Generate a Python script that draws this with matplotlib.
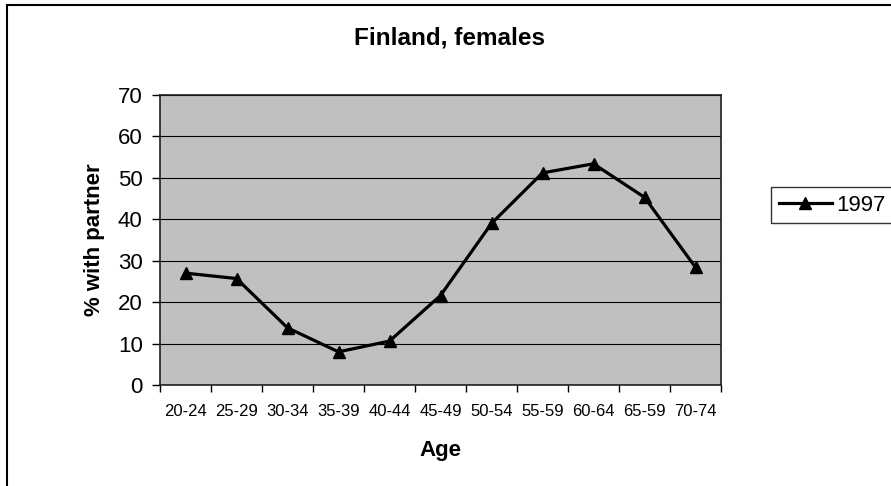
import matplotlib.pyplot as plt
from matplotlib.patches import Rectangle

plt.rcParams["font.family"] = ["Liberation Sans", "DejaVu Sans"]

# ----------------------------
# Data
# ----------------------------
age_groups = ["20-24", "25-29", "30-34", "35-39", "40-44", "45-49",
              "50-54", "55-59", "60-64", "65-59", "70-74"]
with_partner_1997 = [27.0, 25.7, 13.8, 8.0, 10.6, 21.6, 39.0, 51.2, 53.4, 45.3, 28.4]
y_ticks = [0, 10, 20, 30, 40, 50, 60, 70]

W, H = 891, 486
fig = plt.figure(figsize=(W / 100, H / 100), dpi=100)

# plot area in pixel coords: x 160..721, y 95..385
ax = fig.add_axes([160 / W, 1 - 385 / H, (721 - 160) / W, (385 - 95) / H])
ax.set_facecolor("#C0C0C0")

x = list(range(len(age_groups)))
ax.plot(x, with_partner_1997, color="black", linewidth=2.3,
        marker="^", markersize=9, label="1997", zorder=3)

ax.set_xlim(-0.5, len(age_groups) - 0.5)
ax.set_ylim(0, 70)
ax.set_yticks(y_ticks)
ax.tick_params(axis="y", labelsize=16, length=5.5, width=1, pad=7, direction="out")

ax.set_xticks(x)
ax.set_xticklabels(age_groups, fontsize=12)
ax.set_xticks([i - 0.5 for i in range(len(age_groups) + 1)], minor=True)
ax.tick_params(axis="x", which="major", length=0, pad=14)
ax.tick_params(axis="x", which="minor", length=5, width=1, direction="out")

ax.grid(axis="y", color="black", linewidth=0.8)
ax.set_axisbelow(True)
for s in ax.spines.values():
    s.set_color("#202020")
    s.set_linewidth(1.2)

ax.set_ylabel("% with partner", fontsize=16, fontweight="bold")
ax.yaxis.set_label_coords(-0.098, 0.5)
ax.set_xlabel("Age", fontsize=16, fontweight="bold")
ax.xaxis.set_label_coords(0.5, -0.19)

fig.text(449 / W, 1 - 38 / H, "Finland, females", fontsize=17.5,
         fontweight="bold", ha="center", va="center")

leg = fig.legend(loc="center left", bbox_to_anchor=(771 / W, 1 - 205 / H),
                 fontsize=16, frameon=True, fancybox=False, handlelength=2.4,
                 borderpad=0.35, handletextpad=0.2, borderaxespad=0)
leg.get_frame().set_edgecolor("black")
leg.get_frame().set_linewidth(1)

# outer chart frame (extends past the right and bottom edges)
fig.patches.append(Rectangle((7 / W, -0.1), 1.1, 1.1 - 5 / H,
                             transform=fig.transFigure, fill=False,
                             edgecolor="black", linewidth=1.5))

plt.savefig("out.png", dpi=100)
